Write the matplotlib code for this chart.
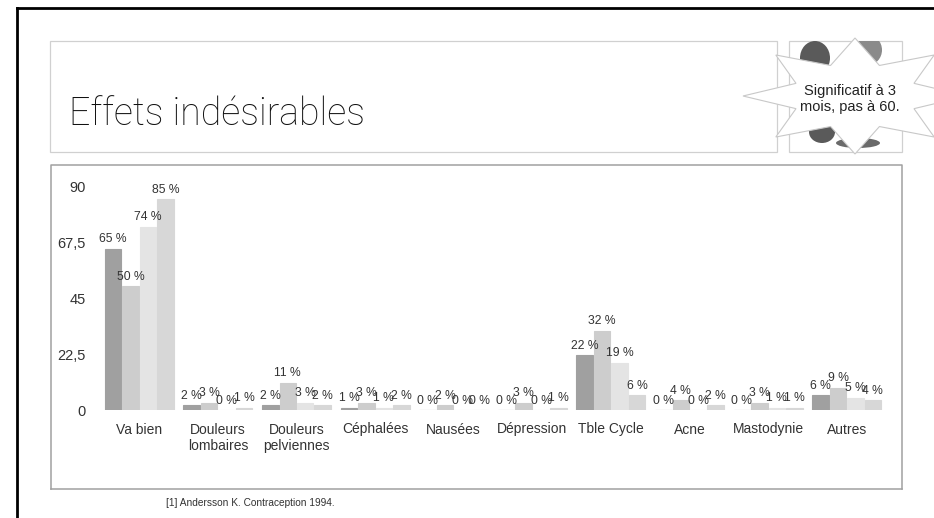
import matplotlib
matplotlib.use("Agg")
import matplotlib.pyplot as plt
import numpy as np
from matplotlib.patches import Rectangle, Polygon, Ellipse

# data
categories = ["Va bien", "Douleurs\nlombaires", "Douleurs\npelviennes", "Céphalées",
              "Nausées", "Dépression", "Tble Cycle", "Acne", "Mastodynie", "Autres"]
serie1 = [65, 2, 2, 1, 0, 0, 22, 0, 0, 6]
serie2 = [50, 3, 11, 3, 2, 3, 32, 4, 3, 9]
serie3 = [74, 0, 3, 1, 0, 0, 19, 0, 1, 5]
serie4 = [85, 1, 2, 2, 0, 1, 6, 2, 1, 4]
yticks = [0, 22.5, 45, 67.5, 90]
ytick_labels = ["0", "22,5", "45", "67,5", "90"]

colors = ["#a0a0a0", "#cdcdcd", "#e4e4e4", "#d7d7d7"]
txt = "#333333"
W, H = 934, 518

plt.rcParams['font.family'] = ['Liberation Sans', 'DejaVu Sans']
fig = plt.figure(figsize=(W / 100, H / 100), dpi=100)

# background layer in pixel coordinates for the slide decoration
bg = fig.add_axes([0, 0, 1, 1], zorder=0)
bg.set_xlim(0, W)
bg.set_ylim(H, 0)
bg.axis("off")

bg.plot([17, 17], [8, H + 2], color="black", lw=2)
bg.plot([17, W + 2], [8, 8], color="black", lw=2)

# title box
bg.add_patch(Rectangle((50, 41), 727, 111, fill=False, ec="#d0d0d0", lw=0.9))
bg.text(69, 114, "Effets indésirables", fontsize=27, color="#111111",
        family=["Roboto", "DejaVu Sans"], fontweight="light", va="center", ha="left")

# picture box with some dark shapes, mostly hidden by the star
pic = Rectangle((789, 41), 113, 111, fill=False, ec="#d0d0d0", lw=0.9)
bg.add_patch(pic)
for (ex, ey, w, h, c) in [(815, 58, 30, 34, "#5a5a5a"), (868, 50, 28, 30, "#8a8a8a"),
                          (822, 132, 26, 22, "#5a5a5a"), (858, 143, 44, 10, "#6a6a6a")]:
    e = Ellipse((ex, ey), w, h, color=c, lw=0)
    bg.add_patch(e)
    e.set_clip_path(pic)

# 8-point star callout
cx, cy, rx, ry, inner = 855, 96, 112, 58, 0.57
ang = np.arange(16) * np.pi / 8
r = np.where(np.arange(16) % 2 == 0, 1.0, inner)
star = np.column_stack([cx + rx * r * np.cos(ang), cy - ry * r * np.sin(ang)])
bg.add_patch(Polygon(star, closed=True, fc="white", ec="#c8c8c8", lw=0.8))
bg.text(850, 99, "Significatif à 3\nmois, pas à 60.", fontsize=10.5, color="#222222",
        ha="center", va="center", linespacing=1.15)

# chart box + footnote
bg.plot([51, 51, 902, 902], [489, 165, 165, 489], color="#a0a0a0", lw=1.1)
bg.plot([51, 902], [489, 489], color="#a0a0a0", lw=1.1)
bg.text(166, 503, "[1] Andersson K. Contraception 1994.", fontsize=7.3, color=txt,
        va="center", ha="left")

# the chart
ax = fig.add_axes([100 / W, (H - 410) / H, 786 / W, 223 / H], zorder=1)
ax.patch.set_alpha(0)
x = np.arange(len(categories))
bw = 0.21
series = [serie1, serie2, serie3, serie4]
for i, vals in enumerate(series):
    pos = x + (i - 1.5) * 0.222
    bars = ax.bar(pos, vals, bw, color=colors[i], edgecolor=colors[i], lw=0.8)
    for b, v in zip(bars, vals):
        ax.annotate(f"{v} %", (b.get_x() + b.get_width() / 2, v), xytext=(0, 2.5),
                    textcoords="offset points", ha="center", va="bottom",
                    fontsize=8.7, color=txt)

ax.set_xlim(-0.5, len(categories) - 0.5)
ax.set_ylim(0, 90)
ax.set_yticks(yticks)
ax.set_yticklabels(ytick_labels)
ax.set_xticks(x)
ax.set_xticklabels(categories)
ax.tick_params(axis="both", length=0, colors=txt, labelsize=10)
ax.tick_params(axis="y", pad=10, labelsize=10.5)
ax.tick_params(axis="x", pad=9)
for s in ax.spines.values():
    s.set_visible(False)

fig.savefig("out.png", dpi=100)
